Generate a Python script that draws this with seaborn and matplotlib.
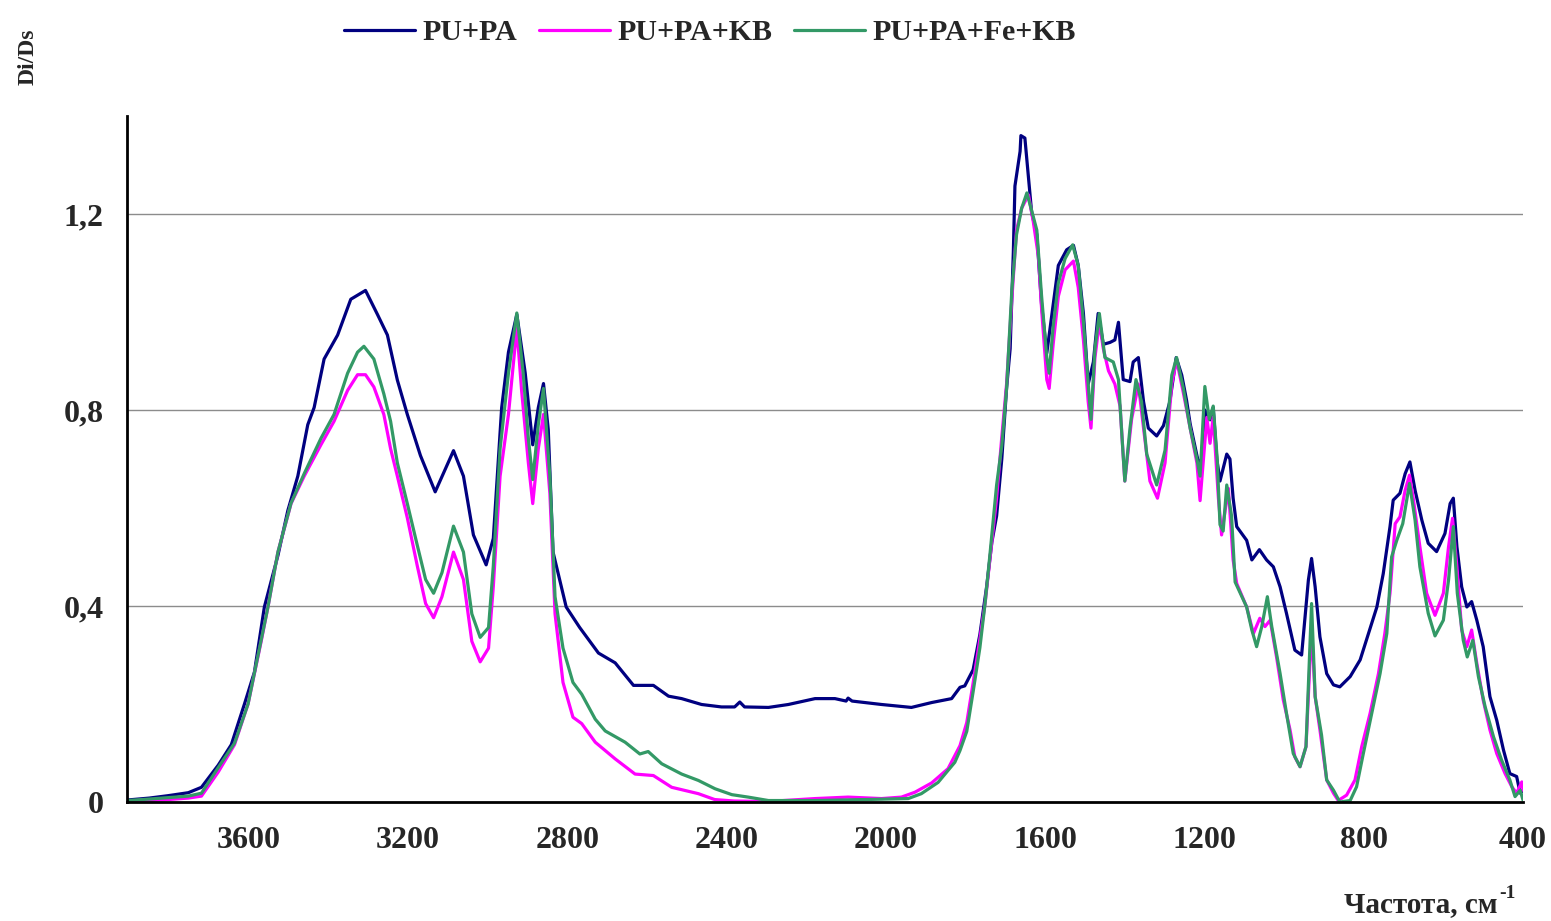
import numpy as np
import pandas as pd
import matplotlib
matplotlib.use("Agg")
import matplotlib.pyplot as plt
import seaborn as sns

# ---------------- data ----------------
series_names = ["PU+PA", "PU+PA+KB", "PU+PA+Fe+KB"]
series_colors = ["#000080", "#FF00FF", "#339966"]

pu_pa_wn = [3906, 3850, 3802, 3752, 3719, 3677, 3644, 3611, 3586, 3561, 3527, 3502, 3477, 3452, 3436, 3411,
            3377, 3344, 3307, 3277, 3252, 3227, 3202, 3169, 3132, 3086, 3061, 3036, 3004, 2986, 2965, 2948,
            2927, 2906, 2887, 2873, 2860, 2848, 2836, 2803, 2769, 2722, 2680, 2634, 2584, 2546, 2513, 2463,
            2413, 2380, 2367, 2355, 2295, 2245, 2178, 2128, 2100, 2095, 2085, 2011, 1936, 1885, 1835, 1814,
            1802, 1781, 1764, 1747, 1734, 1722, 1709, 1697, 1688, 1680, 1676, 1663, 1661, 1651, 1642, 1634,
            1621, 1609, 1596, 1580, 1567, 1546, 1529, 1517, 1504, 1492, 1479, 1467, 1454, 1437, 1425, 1416,
            1404, 1387, 1379, 1366, 1353, 1341, 1320, 1303, 1287, 1271, 1257, 1245, 1236, 1215, 1207, 1199,
            1186, 1178, 1169, 1161, 1144, 1136, 1128, 1119, 1094, 1081, 1062, 1044, 1027, 1010, 994, 973,
            956, 939, 931, 922, 910, 893, 876, 860, 834, 809, 788, 767, 751, 734, 726, 709, 696, 684, 671,
            654, 638, 617, 596, 583, 575, 566, 554, 541, 529, 516, 500, 483, 466, 449, 433, 416, 407, 400]
pu_pa_val = [0.004, 0.008, 0.013, 0.019, 0.030, 0.075, 0.117, 0.200, 0.265, 0.398, 0.503, 0.595, 0.665, 0.770,
             0.805, 0.904, 0.953, 1.026, 1.044, 0.995, 0.953, 0.861, 0.791, 0.707, 0.633, 0.717, 0.665, 0.545,
             0.484, 0.538, 0.805, 0.918, 0.995, 0.876, 0.729, 0.805, 0.854, 0.760, 0.510, 0.398, 0.356, 0.304,
             0.284, 0.238, 0.238, 0.216, 0.211, 0.199, 0.194, 0.194, 0.204, 0.194, 0.193, 0.199, 0.211, 0.211,
             0.206, 0.212, 0.206, 0.199, 0.193, 0.203, 0.211, 0.234, 0.237, 0.270, 0.342, 0.440, 0.530, 0.584,
             0.700, 0.844, 0.925, 1.122, 1.257, 1.328, 1.360, 1.355, 1.275, 1.203, 1.158, 1.014, 0.916, 1.014,
             1.095, 1.127, 1.136, 1.095, 0.997, 0.853, 0.898, 0.997, 0.934, 0.938, 0.943, 0.979, 0.862, 0.858,
             0.898, 0.907, 0.817, 0.763, 0.747, 0.768, 0.817, 0.907, 0.871, 0.820, 0.772, 0.692, 0.700, 0.800,
             0.780, 0.805, 0.700, 0.655, 0.710, 0.700, 0.620, 0.562, 0.534, 0.494, 0.515, 0.494, 0.480, 0.439,
             0.385, 0.310, 0.300, 0.453, 0.497, 0.439, 0.337, 0.262, 0.239, 0.235, 0.256, 0.290, 0.344, 0.398,
             0.466, 0.562, 0.616, 0.630, 0.670, 0.694, 0.636, 0.575, 0.528, 0.511, 0.548, 0.609, 0.620, 0.521,
             0.439, 0.398, 0.409, 0.371, 0.317, 0.215, 0.167, 0.106, 0.058, 0.052, 0.018, 0.024]

pu_pa_kb_wn = [3906, 3850, 3802, 3752, 3719, 3677, 3636, 3602, 3569, 3552, 3527, 3494, 3461, 3419, 3386, 3352,
               3327, 3307, 3286, 3261, 3244, 3227, 3202, 3177, 3156, 3136, 3115, 3086, 3061, 3040, 3019, 2998,
               2986, 2969, 2948, 2927, 2915, 2898, 2887, 2873, 2860, 2844, 2831, 2811, 2786, 2764, 2730, 2680,
               2630, 2584, 2538, 2471, 2430, 2381, 2297, 2178, 2095, 2011, 1961, 1927, 1885, 1844, 1814, 1797,
               1781, 1764, 1751, 1739, 1722, 1709, 1697, 1684, 1672, 1659, 1642, 1630, 1617, 1609, 1596, 1590,
               1580, 1567, 1550, 1529, 1517, 1504, 1492, 1485, 1475, 1464, 1454, 1441, 1425, 1412, 1400, 1383,
               1366, 1353, 1337, 1318, 1299, 1282, 1270, 1253, 1236, 1219, 1211, 1194, 1186, 1178, 1165, 1157,
               1140, 1128, 1119, 1094, 1077, 1061, 1048, 1035, 1019, 1002, 985, 973, 960, 945, 931, 922, 910,
               893, 876, 864, 843, 822, 805, 784, 763, 747, 734, 721, 709, 696, 685, 675, 659, 642, 621, 600,
               587, 577, 566, 554, 541, 529, 516, 500, 483, 466, 445, 428, 416, 403, 400]
pu_pa_kb_val = [0.002, 0.003, 0.005, 0.008, 0.012, 0.061, 0.117, 0.200, 0.328, 0.398, 0.510, 0.609, 0.665,
                0.729, 0.777, 0.840, 0.872, 0.872, 0.847, 0.791, 0.721, 0.665, 0.580, 0.482, 0.405, 0.376,
                0.419, 0.510, 0.454, 0.328, 0.286, 0.314, 0.440, 0.665, 0.791, 0.967, 0.840, 0.692, 0.609,
                0.721, 0.791, 0.630, 0.384, 0.244, 0.173, 0.160, 0.122, 0.088, 0.057, 0.054, 0.030, 0.017,
                0.005, 0.002, 0.001, 0.007, 0.010, 0.007, 0.010, 0.020, 0.039, 0.068, 0.115, 0.162, 0.243,
                0.333, 0.405, 0.494, 0.620, 0.745, 0.853, 1.023, 1.167, 1.212, 1.239, 1.185, 1.113, 1.006,
                0.862, 0.844, 0.934, 1.032, 1.086, 1.104, 1.050, 0.943, 0.817, 0.763, 0.907, 0.979, 0.925,
                0.880, 0.853, 0.808, 0.655, 0.781, 0.853, 0.763, 0.655, 0.620, 0.692, 0.853, 0.902, 0.835,
                0.763, 0.692, 0.615, 0.785, 0.732, 0.786, 0.620, 0.545, 0.640, 0.494, 0.446, 0.398, 0.344,
                0.375, 0.358, 0.371, 0.296, 0.208, 0.147, 0.092, 0.072, 0.113, 0.358, 0.215, 0.147, 0.045,
                0.018, 0.003, 0.014, 0.045, 0.113, 0.181, 0.262, 0.344, 0.426, 0.568, 0.582, 0.636, 0.667,
                0.616, 0.521, 0.426, 0.381, 0.426, 0.521, 0.579, 0.480, 0.351, 0.317, 0.351, 0.283, 0.208,
                0.147, 0.099, 0.058, 0.031, 0.018, 0.041, 0.024]

pu_pa_fe_kb_wn = [3906, 3850, 3802, 3752, 3719, 3677, 3636, 3602, 3552, 3527, 3494, 3461, 3419, 3386, 3352,
                  3327, 3311, 3286, 3261, 3244, 3227, 3202, 3177, 3156, 3136, 3115, 3086, 3061, 3040, 3019,
                  2998, 2986, 2969, 2948, 2927, 2911, 2898, 2887, 2873, 2860, 2844, 2831, 2811, 2786, 2764,
                  2730, 2705, 2655, 2618, 2597, 2563, 2513, 2471, 2429, 2387, 2346, 2295, 2178, 2053, 1944,
                  1911, 1869, 1827, 1814, 1797, 1781, 1764, 1751, 1739, 1722, 1709, 1697, 1684, 1672, 1659,
                  1646, 1634, 1621, 1609, 1596, 1590, 1580, 1567, 1550, 1531, 1517, 1504, 1492, 1485, 1475,
                  1464, 1450, 1429, 1416, 1405, 1400, 1387, 1372, 1358, 1345, 1320, 1299, 1282, 1270, 1253,
                  1236, 1219, 1211, 1199, 1188, 1178, 1168, 1161, 1153, 1144, 1132, 1123, 1094, 1081, 1069,
                  1056, 1042, 1031, 1010, 994, 977, 960, 945, 931, 922, 906, 893, 876, 860, 834, 818, 801, 780,
                  759, 742, 730, 717, 702, 685, 671, 659, 638, 621, 600, 587, 575, 565, 550, 540, 526, 512,
                  495, 474, 454, 433, 420, 407, 400]
pu_pa_fe_kb_val = [0.003, 0.006, 0.009, 0.012, 0.018, 0.070, 0.120, 0.200, 0.398, 0.510, 0.610, 0.670, 0.742,
                   0.791, 0.875, 0.918, 0.930, 0.904, 0.833, 0.777, 0.692, 0.609, 0.524, 0.454, 0.426, 0.468,
                   0.563, 0.510, 0.384, 0.336, 0.356, 0.482, 0.721, 0.875, 0.998, 0.875, 0.742, 0.658, 0.770,
                   0.844, 0.665, 0.419, 0.314, 0.244, 0.220, 0.169, 0.145, 0.122, 0.098, 0.103, 0.078, 0.057,
                   0.044, 0.027, 0.015, 0.010, 0.003, 0.003, 0.005, 0.007, 0.017, 0.040, 0.081, 0.105, 0.144,
                   0.225, 0.315, 0.405, 0.503, 0.647, 0.727, 0.844, 1.041, 1.158, 1.212, 1.243, 1.207, 1.167,
                   1.032, 0.907, 0.875, 0.970, 1.059, 1.109, 1.137, 1.095, 0.979, 0.853, 0.781, 0.925, 0.997,
                   0.907, 0.898, 0.862, 0.718, 0.655, 0.763, 0.862, 0.817, 0.710, 0.647, 0.718, 0.871, 0.907,
                   0.844, 0.763, 0.700, 0.665, 0.848, 0.781, 0.808, 0.700, 0.566, 0.553, 0.647, 0.584, 0.449,
                   0.398, 0.351, 0.317, 0.358, 0.419, 0.358, 0.262, 0.181, 0.099, 0.072, 0.113, 0.405, 0.215,
                   0.137, 0.045, 0.024, 0.000, 0.003, 0.031, 0.099, 0.181, 0.262, 0.344, 0.500, 0.534, 0.568,
                   0.650, 0.575, 0.480, 0.385, 0.339, 0.371, 0.453, 0.562, 0.426, 0.330, 0.296, 0.330, 0.256,
                   0.194, 0.133, 0.086, 0.045, 0.011, 0.024, 0.004]

x_ticks = [3600, 3200, 2800, 2400, 2000, 1600, 1200, 800, 400]
y_ticks = [0, 0.4, 0.8, 1.2]
y_tick_labels = ["0", "0,4", "0,8", "1,2"]

# ---------------- frame ----------------
frames = []
for name, wn, val in [(series_names[0], pu_pa_wn, pu_pa_val),
                      (series_names[1], pu_pa_kb_wn, pu_pa_kb_val),
                      (series_names[2], pu_pa_fe_kb_wn, pu_pa_fe_kb_val)]:
    frames.append(pd.DataFrame({"wn": wn, "val": val, "series": name}))
df = pd.concat(frames, ignore_index=True)

sns.set_theme(style="white")
plt.rcParams["font.family"] = ["Liberation Serif", "DejaVu Serif"]
plt.rcParams["font.weight"] = "bold"

W, H = 1551, 921
fig = plt.figure(figsize=(W / 100, H / 100), dpi=100)
ax = fig.add_axes([127 / W, 1 - 802 / H, (1523 - 127) / W, (802 - 116) / H])

sns.lineplot(data=df, x="wn", y="val", hue="series", hue_order=series_names,
             palette=dict(zip(series_names, series_colors)), estimator=None,
             sort=True, linewidth=2.3, ax=ax, legend=True)

ax.set_xlim(3906, 400)
ax.set_ylim(0, 1.4)
ax.set_xticks(x_ticks)
ax.set_xticklabels([str(t) for t in x_ticks], fontsize=23, fontweight="bold")
ax.set_yticks(y_ticks)
ax.set_yticklabels(y_tick_labels, fontsize=23, fontweight="bold")
ax.tick_params(axis="both", direction="out", length=8, width=2, color="black", pad=9)
ax.set_xlabel("")
ax.set_ylabel("")

for yv in y_ticks[1:]:
    ax.axhline(yv, color="#8c8c8c", lw=1.0, zorder=0)

for s in ["top", "right"]:
    ax.spines[s].set_visible(False)
for s in ["left", "bottom"]:
    ax.spines[s].set_color("black")
    ax.spines[s].set_linewidth(2)

handles, labels = ax.get_legend_handles_labels()
ax.get_legend().remove()
for h in handles:
    h.set_linewidth(2.3)
fig.legend(handles, labels, loc="center", bbox_to_anchor=(710 / W, 1 - 33 / H), ncol=3,
           frameon=False, handlelength=2.4, handletextpad=0.25, columnspacing=0.7,
           prop={"weight": "bold", "size": 21.5})

fig.text(28 / W, 1 - 57 / H, "Di/Ds", rotation=90, ha="center", va="center", fontsize=17,
         fontweight="bold")
fig.text(1497 / W, 1 - 912 / H, "Частота, см", ha="right", va="baseline", fontsize=21,
         fontweight="bold")
fig.text(1499 / W, 1 - 898 / H, "-1", ha="left", va="baseline", fontsize=14,
         fontweight="bold")

fig.savefig("out.png", dpi=100)
